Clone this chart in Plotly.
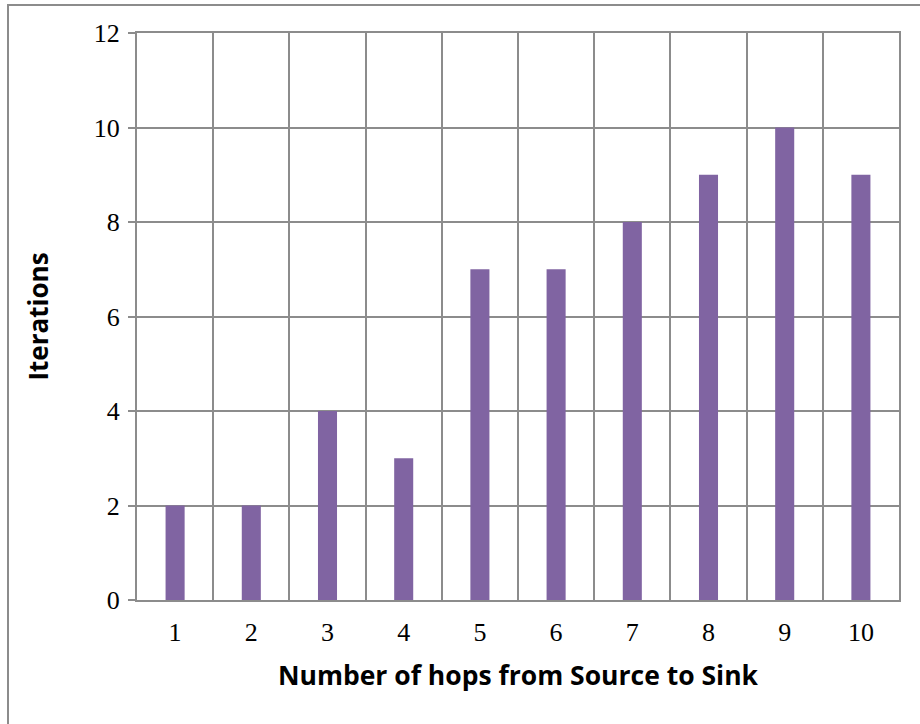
import plotly.graph_objects as go

# Hop counts and the iterations needed for each
hops = [1, 2, 3, 4, 5, 6, 7, 8, 9, 10]
iterations = [2, 2, 4, 3, 7, 7, 8, 9, 10, 9]
y_ticks = [0, 2, 4, 6, 8, 10, 12]

GRID = "#8c8c8c"
BAR = "#8064A2"

fig = go.Figure(
    go.Bar(
        x=hops,
        y=iterations,
        width=0.25,
        marker=dict(color=BAR, line=dict(width=0)),
    )
)

fig.update_layout(
    width=920,
    height=724,
    margin=dict(l=137, r=21, t=33, b=124),
    paper_bgcolor="white",
    plot_bgcolor="white",
    showlegend=False,
    shapes=[
        dict(
            type="rect",
            xref="paper",
            yref="paper",
            x0=(8 - 137) / 762,
            x1=1.2,
            y0=-0.4,
            y1=(600 - 5) / 567,
            line=dict(color=GRID, width=2),
            fillcolor="rgba(0,0,0,0)",
            layer="below",
        )
    ],
)

fig.update_xaxes(
    range=[0.5, 10.5],
    tickmode="array",
    tickvals=hops,
    ticktext=[str(h) for h in hops],
    ticks="",
    ticklabelstandoff=8,
    showgrid=False,
    minor=dict(tick0=0.5, dtick=1, showgrid=True, gridcolor=GRID, gridwidth=1.5),
    showline=True,
    linecolor=GRID,
    linewidth=2,
    mirror=True,
    zeroline=False,
    tickfont=dict(family="Liberation Serif", size=26, color="black"),
    title=dict(
        text="Number of hops from Source to Sink",
        font=dict(family="Open Sans", size=26.5, color="black", weight="bold"),
        standoff=20,
    ),
)

fig.update_yaxes(
    range=[0, 12],
    tickmode="array",
    tickvals=y_ticks,
    ticks="outside",
    ticklen=7,
    tickcolor=GRID,
    tickwidth=2,
    ticklabelstandoff=3,
    showgrid=True,
    gridcolor=GRID,
    gridwidth=1.5,
    showline=True,
    linecolor=GRID,
    linewidth=2,
    mirror=True,
    zeroline=False,
    tickfont=dict(family="Liberation Serif", size=26, color="black"),
    title=dict(
        text="Iterations",
        font=dict(family="Open Sans", size=26, color="black", weight="bold"),
        standoff=38,
    ),
)

fig.write_html("out.html")
